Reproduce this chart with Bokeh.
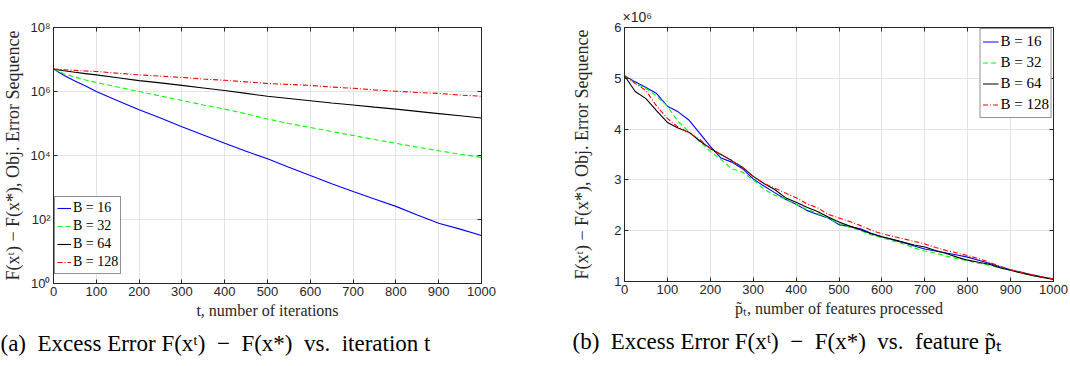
from bokeh.plotting import figure
from bokeh.layouts import row
from bokeh.models import (Range1d, LinearAxis, LogAxis, FixedTicker, Legend, LegendItem, Title)
from bokeh.embed import file_html
from bokeh.resources import INLINE

# ---------------- data ----------------
series_labels = ["B = 16", "B = 32", "B = 64", "B = 128"]

# (a) excess error vs iteration t (log scale)
t_iter = [0, 25, 50, 75, 100, 150, 200, 250, 300, 350, 400, 450, 500,
          550, 600, 650, 700, 750, 800, 850, 900, 950, 1000]
err_iter_b16 = [5.01e6, 3.16e6, 2.14e6, 1.48e6, 1.0e6, 5.13e5, 2.69e5, 1.48e5, 7.94e4, 4.37e4, 2.40e4, 1.35e4,
                7.94e3, 4.27e3, 2.37e3, 1.32e3, 750, 437, 257, 138, 75.9, 50.1, 31.6]
err_iter_b32 = [5.01e6, 3.55e6, 2.82e6, 2.29e6, 1.91e6, 1.38e6, 1.0e6, 7.24e5, 5.25e5, 3.80e5, 2.82e5, 2.0e5,
                1.38e5, 1.0e5, 7.50e4, 5.62e4, 4.22e4, 3.16e4, 2.40e4, 1.82e4, 1.41e4, 1.10e4, 8.71e3]
err_iter_b64 = [5.01e6, 4.47e6, 3.98e6, 3.63e6, 3.31e6, 2.69e6, 2.19e6, 1.86e6, 1.55e6, 1.29e6, 1.07e6, 8.71e5,
                7.08e5, 6.03e5, 5.13e5, 4.37e5, 3.80e5, 3.24e5, 2.82e5, 2.40e5, 2.04e5, 1.74e5, 1.48e5]
err_iter_b128 = [5.01e6, 4.79e6, 4.57e6, 4.37e6, 4.22e6, 3.72e6, 3.31e6, 3.02e6, 2.75e6, 2.45e6, 2.24e6, 2.0e6,
                 1.78e6, 1.66e6, 1.55e6, 1.38e6, 1.26e6, 1.12e6, 1.02e6, 9.33e5, 8.71e5, 7.76e5, 7.08e5]
log_ticks = [1, 1e2, 1e4, 1e6, 1e8]
log_tick_labels = ["10⁰", "10²", "10⁴", "10⁶", "10⁸"]

# (b) excess error (x10^6) vs features processed
p_feat = [0, 25, 50, 75, 100, 125, 150, 175, 200, 225, 250, 275, 300, 325, 350, 375, 400, 425, 450, 475, 500,
          525, 550, 575, 600, 625, 650, 675, 700, 725, 750, 775, 800, 825, 850, 875, 900, 925, 950, 975, 1000]
err_feat_b16 = [5.05, 4.93, 4.82, 4.70, 4.45, 4.34, 4.18, 3.92, 3.66, 3.43, 3.35, 3.22, 3.02, 2.88, 2.75, 2.62,
                2.52, 2.40, 2.32, 2.25, 2.12, 2.08, 2.04, 1.95, 1.88, 1.82, 1.77, 1.70, 1.64, 1.60, 1.56, 1.52,
                1.48, 1.42, 1.36, 1.29, 1.23, 1.18, 1.13, 1.09, 1.05]
err_feat_b32 = [5.05, 4.90, 4.80, 4.65, 4.45, 4.15, 3.95, 3.76, 3.56, 3.40, 3.22, 3.15, 3.00, 2.82, 2.70, 2.62,
                2.52, 2.42, 2.34, 2.25, 2.14, 2.07, 2.00, 1.92, 1.86, 1.80, 1.74, 1.66, 1.60, 1.56, 1.50, 1.45,
                1.41, 1.36, 1.32, 1.27, 1.22, 1.17, 1.12, 1.08, 1.05]
err_feat_b64 = [5.05, 4.74, 4.60, 4.36, 4.13, 4.02, 3.94, 3.77, 3.62, 3.50, 3.38, 3.25, 3.07, 2.93, 2.81, 2.65,
                2.56, 2.46, 2.38, 2.27, 2.17, 2.09, 2.02, 1.94, 1.88, 1.83, 1.77, 1.72, 1.68, 1.61, 1.55, 1.48,
                1.42, 1.38, 1.34, 1.27, 1.22, 1.17, 1.12, 1.08, 1.04]
err_feat_b128 = [5.05, 4.90, 4.76, 4.45, 4.21, 4.04, 3.93, 3.80, 3.62, 3.50, 3.38, 3.24, 3.07, 2.93, 2.84, 2.74,
                 2.65, 2.53, 2.45, 2.32, 2.25, 2.18, 2.10, 2.01, 1.94, 1.89, 1.84, 1.79, 1.74, 1.67, 1.61, 1.56,
                 1.51, 1.45, 1.38, 1.30, 1.23, 1.18, 1.13, 1.09, 1.05]
x_ticks = [0, 100, 200, 300, 400, 500, 600, 700, 800, 900, 1000]
lin_ticks = [1, 2, 3, 4, 5, 6]

# ---------------- styles ----------------
colors = ["#0000ff", "#00ff00", "#000000", "#ff0000"]
dashes = ["solid", "5 3", "solid", "5 2 1 2"]
AX = "#262626"
GRID = "#e3e3e3"
SANS = "Liberation Sans"
SERIF = "Liberation Serif"


def style(p, xlabel, ylabel, ylabel_standoff):
    p.outline_line_color = AX
    p.outline_line_width = 1
    p.background_fill_color = "white"
    p.border_fill_color = "white"
    for ax in p.xaxis + p.yaxis:
        ax.axis_line_color = AX
        ax.major_tick_line_color = AX
        ax.major_tick_in = 4
        ax.major_tick_out = 0
        ax.minor_tick_line_color = None
        ax.major_label_text_font = SANS
        ax.major_label_text_font_size = "13px"
        ax.major_label_text_color = AX
        ax.major_label_standoff = 3
        ax.axis_label_text_font = SERIF
        ax.axis_label_text_font_style = "normal"
        ax.axis_label_text_color = AX
    p.xaxis[0].axis_label = xlabel
    p.xaxis[0].axis_label_text_font_size = "16px"
    p.xaxis[0].axis_label_standoff = 3
    p.yaxis[0].axis_label = ylabel
    p.yaxis[0].axis_label_text_font_size = "18px"
    p.yaxis[0].axis_label_standoff = ylabel_standoff
    p.xgrid.grid_line_color = GRID
    p.ygrid.grid_line_color = GRID
    p.xgrid.ticker = FixedTicker(ticks=x_ticks)
    p.xaxis[0].ticker = FixedTicker(ticks=x_ticks)


def add_box_axes(p, log=False):
    top = LinearAxis(ticker=FixedTicker(ticks=x_ticks))
    right = (LogAxis if log else LinearAxis)(ticker=FixedTicker(ticks=log_ticks if log else lin_ticks))
    for ax in (top, right):
        ax.axis_line_color = AX
        ax.major_tick_line_color = AX
        ax.major_tick_in = 4
        ax.major_tick_out = 0
        ax.minor_tick_line_color = None
        ax.major_label_text_font_size = "1px"
        ax.major_label_text_color = None
        ax.major_label_standoff = 0
    p.add_layout(top, "above")
    p.add_layout(right, "right")


def add_legend(p, renderers, location, font_size, row_h, glyph_w):
    items = [LegendItem(label=lab, renderers=[r]) for lab, r in zip(series_labels, renderers)]
    leg = Legend(items=items, location=location)
    leg.label_text_font = SERIF
    leg.label_text_font_size = font_size
    leg.label_text_color = "#000000"
    leg.glyph_width = glyph_w
    leg.glyph_height = row_h
    leg.label_height = row_h
    leg.label_standoff = 2
    leg.padding = 2
    leg.spacing = 0
    leg.margin = 1
    leg.border_line_color = AX
    leg.border_line_width = 1
    leg.background_fill_alpha = 1
    p.add_layout(leg)


def add_caption(p, text, offset):
    cap = Title(text=text, align="left", offset=offset, text_font=SERIF, text_font_size="23px",
                text_font_style="normal", text_color="#000000", standoff=15)
    p.add_layout(cap, "below")


# ---------------- panel (a) ----------------
p1 = figure(width=535, height=366, frame_width=428, frame_height=256,
            y_axis_type="log", x_range=Range1d(0, 1000), y_range=Range1d(1, 1e8),
            min_border_left=53, min_border_top=26, min_border_right=54, min_border_bottom=0,
            output_backend="svg", toolbar_location=None)
style(p1, "t, number of iterations", "F(xᵗ) − F(x*), Obj. Error Sequence", 4)
p1.yaxis[0].ticker = FixedTicker(ticks=log_ticks)
p1.ygrid.ticker = FixedTicker(ticks=log_ticks)
p1.yaxis[0].major_label_overrides = {float(v): s for v, s in zip(log_ticks, log_tick_labels)}
add_box_axes(p1, log=True)
r1 = []
for ys, c, d in zip([err_iter_b16, err_iter_b32, err_iter_b64, err_iter_b128], colors, dashes):
    r1.append(p1.line(t_iter, ys, line_color=c, line_dash=d, line_width=1.1))
add_legend(p1, r1, (1, 9), "14px", 18, 14)
add_caption(p1, "(a)\u2002Excess Error F(xᵗ)\u2002−\u2002F(x*)\u2002vs.\u2002iteration t", -53)

# ---------------- panel (b) ----------------
p2 = figure(width=535, height=366, frame_width=429, frame_height=254,
            x_range=Range1d(0, 1000), y_range=Range1d(1, 6),
            min_border_left=89, min_border_top=27, min_border_right=17, min_border_bottom=0,
            output_backend="svg", toolbar_location=None)
style(p2, "p̃ₜ, number of features processed", "F(xᵗ) − F(x*), Obj. Error Sequence", 19)
p2.yaxis[0].ticker = FixedTicker(ticks=lin_ticks)
p2.ygrid.ticker = FixedTicker(ticks=lin_ticks)
add_box_axes(p2, log=False)
mult = Title(text="×10⁶", align="left", offset=-2, text_font=SANS, text_font_size="14px",
             text_font_style="normal", text_color=AX, standoff=6)
p2.add_layout(mult, "above")
r2 = []
for ys, c, d in zip([err_feat_b16, err_feat_b32, err_feat_b64, err_feat_b128], colors, dashes):
    r2.append(p2.line(p_feat, ys, line_color=c, line_dash=d, line_width=1.1))
add_legend(p2, r2, "top_right", "15px", 21, 16)
add_caption(p2, "(b)\u2002Excess Error F(xᵗ)\u2002−\u2002F(x*)\u2002vs.\u2002feature p̃ₜ", -52)

layout = row(p1, p2, spacing=0)
open("out.html", "w").write(file_html(layout, INLINE))
